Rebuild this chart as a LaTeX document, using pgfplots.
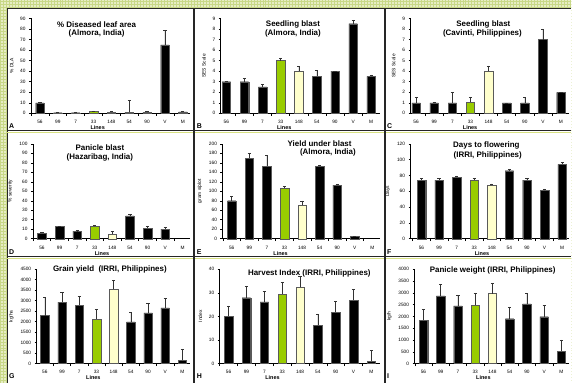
\documentclass[border=0pt]{standalone}
\usepackage{fontspec}
\setmainfont{Liberation Sans}
\usepackage{pgfplots}
\pgfplotsset{compat=1.18}
\usetikzlibrary{patterns}
\definecolor{barG}{HTML}{99CC00}
\definecolor{barY}{HTML}{FFFFCC}
\definecolor{bgG}{RGB}{230,237,196}
\definecolor{bgP}{RGB}{200,216,135}
\definecolor{sepL}{RGB}{215,225,130}
\definecolor{edge}{RGB}{90,90,90}
\pgfplotsset{
 panel/.style={
   scale only axis, anchor=south west,
   axis x line*=bottom, axis y line*=left,
   axis line style={-, line width=0.6pt, black},
   ymin=0, enlargelimits=false,
   xtick={0,...,8}, xticklabels={56,99,7,33,148,54,90,V,M},
   major x tick style={draw=none},
   minor xtick={-0.5,0.5,1.5,2.5,3.5,4.5,5.5,6.5,7.5,8.5},
   tick align=outside,
   major tick length=2bp, minor tick length=2.5bp,
   every tick/.style={line width=0.5pt, black},
   ticklabel style={font=\fontsize{4.8}{5}\selectfont},
   xticklabel style={yshift=-1.5bp},
   /pgf/number format/assume math mode=true,
   /pgf/number format/1000 sep={},
   xlabel={Lines},
   ylabel style={font=\fontsize{4.9}{5}\selectfont},
   ybar, bar width=8.5bp, bar shift=0pt,
   clip=false,
 },
 lbl/.style={xlabel style={at={(axis description cs:#1,0)}, anchor=center, yshift=-14.5bp, font=\bfseries\fontsize{5.5}{6}\selectfont}},
 eb/.style={/pgfplots/error bars/y dir=plus, /pgfplots/error bars/y explicit,
   /pgfplots/error bars/error bar style={line width=0.5pt, black!80},
   /pgfplots/error bars/error mark options={rotate=90, mark size=1.6pt, line width=0.5pt, black!80}},
 blk/.style={fill=black, draw=edge, line width=0.4pt, eb},
 grn/.style={fill=barG, draw=edge, line width=0.4pt, eb},
 yel/.style={fill=barY, draw=edge, line width=0.4pt, eb},
}
\begin{document}
\begin{tikzpicture}[x=1bp,y=1bp]
% background
\fill[bgG] (0,0) rectangle (572,383);
\fill[pattern=grid, pattern color=bgP] (0,0) rectangle (572,383);
\fill[white] (7,0) rectangle (572,374);

% ---------------- Row 1 ----------------
\begin{axis}[panel, lbl=0.42, at={(31bp,269.5bp)}, width=159bp, height=95bp, xmin=-0.503, xmax=8.39,
  ymax=90, ytick={0,10,...,90}, ylabel={\% DLA}]
\addplot[blk] coordinates {(0,10) +- (0,0.6) (1,0.6) +- (0,0.3) (2,0.6) +- (0,0.3) (5,1) +- (0,11) (6,1) +- (0,0.8) (7,65) +- (0,14) (8,1.5) +- (0,0.6)};
\addplot[grn] coordinates {(3,1.8) +- (0,0.6)};
\addplot[yel] coordinates {(4,1.5) +- (0,0.7)};
\end{axis}

\begin{axis}[panel, lbl=0.40, at={(221bp,269.5bp)}, width=159bp, height=95bp, xmin=-0.31, xmax=8.46,
  ymax=9, ytick={0,...,9}, ylabel={SES Scale}]
\addplot[blk] coordinates {(0,3.0) +- (0,0.05) (1,3.0) +- (0,0.3) (2,2.5) +- (0,0.25) (5,3.5) +- (0,0.55) (6,4.0) +- (0,0) (7,8.5) +- (0,0.3) (8,3.5) +- (0,0.15)};
\addplot[grn] coordinates {(3,5.0) +- (0,0.25)};
\addplot[yel] coordinates {(4,4.0) +- (0,0.45)};
\end{axis}

\begin{axis}[panel, lbl=0.375, at={(411bp,269.5bp)}, width=159bp, height=95bp, xmin=-0.31, xmax=8.46,
  ymax=9, ytick={0,...,9}, ylabel={SES Scale}]
\addplot[blk] coordinates {(0,1) +- (0,0.5) (1,1) +- (0,0.1) (2,1) +- (0,1) (5,1) +- (0,0) (6,1) +- (0,0.5) (7,7) +- (0,1) (8,2) +- (0,0)};
\addplot[grn] coordinates {(3,1.1) +- (0,0.4)};
\addplot[yel] coordinates {(4,4) +- (0,0.5)};
\end{axis}

% ---------------- Row 2 ----------------
\begin{axis}[panel, lbl=0.44, at={(33bp,144bp)}, width=157bp, height=95bp, xmin=-0.51, xmax=8.40,
  ymax=100, ytick={0,10,...,100}, ylabel={\% severity}]
\addplot[blk] coordinates {(0,6) +- (0,1) (1,13) +- (0,0.3) (2,8) +- (0,0.5) (5,24) +- (0,1.5) (6,11) +- (0,2.5) (7,10) +- (0,2.5)};
\addplot[grn] coordinates {(3,13) +- (0,1)};
\addplot[yel] coordinates {(4,5) +- (0,3)};
\end{axis}

\begin{axis}[panel, lbl=0.37, at={(222.7bp,144bp)}, width=157.3bp, height=95bp, xmin=-0.53, xmax=8.41,
  ymax=200, ytick={0,20,...,200}, ylabel={gram s/plot}]
\addplot[blk] coordinates {(0,80) +- (0,10) (1,170) +- (0,10) (2,153) +- (0,23) (5,153) +- (0,2) (6,113) +- (0,2) (7,5) +- (0,0)};
\addplot[grn] coordinates {(3,107) +- (0,4)};
\addplot[yel] coordinates {(4,71) +- (0,9)};
\end{axis}

\begin{axis}[panel, lbl=0.45, at={(411bp,144bp)}, width=159bp, height=95bp, xmin=-0.625, xmax=8.41,
  ymax=120, ytick={0,20,...,120}, ylabel={Days}]
\addplot[blk] coordinates {(0,74) +- (0,2.5) (1,74) +- (0,2.5) (2,78) +- (0,1.5) (5,86) +- (0,2) (6,74) +- (0,2.5) (7,61) +- (0,2) (8,94) +- (0,2.5)};
\addplot[grn] coordinates {(3,74) +- (0,2)};
\addplot[yel] coordinates {(4,68) +- (0,1.5)};
\end{axis}

% ---------------- Row 3 ----------------
\begin{axis}[panel, lbl=0.37, at={(36.7bp,19bp)}, width=153.3bp, height=94.5bp, xmin=-0.48, xmax=8.43,
  ymax=4500, ytick={0,500,...,4500}, ylabel={kg/ha}]
\addplot[blk] coordinates {(0,2290) +- (0,870) (1,2930) +- (0,470) (2,2770) +- (0,435) (5,1990) +- (0,455) (6,2420) +- (0,470) (7,2650) +- (0,460) (8,160) +- (0,500)};
\addplot[grn] coordinates {(3,2135) +- (0,445)};
\addplot[yel] coordinates {(4,3550) +- (0,410)};
\end{axis}

\begin{axis}[panel, lbl=0.33, at={(220bp,19bp)}, width=160bp, height=94.5bp, xmin=-0.50, xmax=8.46,
  ymax=40, ytick={0,10,...,40}, ylabel={Index}]
\addplot[blk] coordinates {(0,20.0) +- (0,4.4) (1,27.9) +- (0,4.7) (2,26.1) +- (0,4.4) (5,16.3) +- (0,4.8) (6,21.7) +- (0,4.5) (7,26.9) +- (0,4.4) (8,1.0) +- (0,4.7)};
\addplot[grn] coordinates {(3,29.6) +- (0,4.7)};
\addplot[yel] coordinates {(4,32.5) +- (0,4.4)};
\end{axis}

\begin{axis}[panel, lbl=0.445, at={(415bp,19bp)}, width=155bp, height=94.5bp, xmin=-0.52, xmax=8.46,
  ymax=4000, ytick={0,500,...,4000}, ylabel={kg/h}]
\addplot[blk] coordinates {(0,1830) +- (0,480) (1,2865) +- (0,495) (2,2440) +- (0,470) (5,1900) +- (0,500) (6,2525) +- (0,465) (7,1985) +- (0,485) (8,525) +- (0,480)};
\addplot[grn] coordinates {(3,2480) +- (0,485)};
\addplot[yel] coordinates {(4,2965) +- (0,435)};
\end{axis}

% titles
\begin{scope}[every node/.style={font=\bfseries\fontsize{8}{9}\selectfont, inner sep=0pt}]
\node at (96.7,358.7) {\% Diseased leaf area};
\node at (96.7,349.7) {(Almora, India)};
\node at (293.3,358.7) {Seedling blast};
\node at (293.3,349.7) {(Almora, India)};
\node at (484,358.7) {Seedling blast};
\node at (483,349.7) {(Cavinti, Philippines)};
\node at (100,234.7) {Panicle blast};
\node at (100,225.3) {(Hazaribag, India)};
\node at (320,238.7) {Yield under blast};
\node at (328.3,230.7) {(Almora, India)};
\node at (487,237) {Days to flowering};
\node at (488.3,227.3) {(IRRI, Philippines)};
\node at (110,113) {Grain yield\ \ (IRRI, Philippines)};
\node at (309.7,109) {Harvest Index (IRRI, Philippines)};
\node at (493.3,112.3) {Panicle weight (IRRI, Philippines)};
\end{scope}

% separators and borders
\draw[line width=1.4pt, black!85] (7.7,0) -- (7.7,374.3) -- (572,374.3);
\draw[line width=1pt, sepL] (7,250.6) -- (572,250.6);
\draw[line width=1.4pt, black!85] (7,252.4) -- (572,252.4);
\draw[line width=1pt, sepL] (7,124.6) -- (572,124.6);
\draw[line width=1.4pt, black!85] (7,126.4) -- (572,126.4);
\draw[line width=2pt, black!85] (194.5,0) -- (194.5,374);
\draw[line width=2pt, black!85] (385,0) -- (385,374);

% panel letters
\begin{scope}[every node/.style={font=\bfseries\fontsize{7}{7}\selectfont, anchor=west, inner sep=0pt}]
\node at (9,256.5) {A};
\node at (197,256.5) {B};
\node at (387.5,256.5) {C};
\node at (9,131) {D};
\node at (197,131) {E};
\node at (387.5,131) {F};
\node at (9,6.5) {G};
\node at (197,6.5) {H};
\node at (387.5,6.5) {I};
\end{scope}
\end{tikzpicture}
\end{document}
